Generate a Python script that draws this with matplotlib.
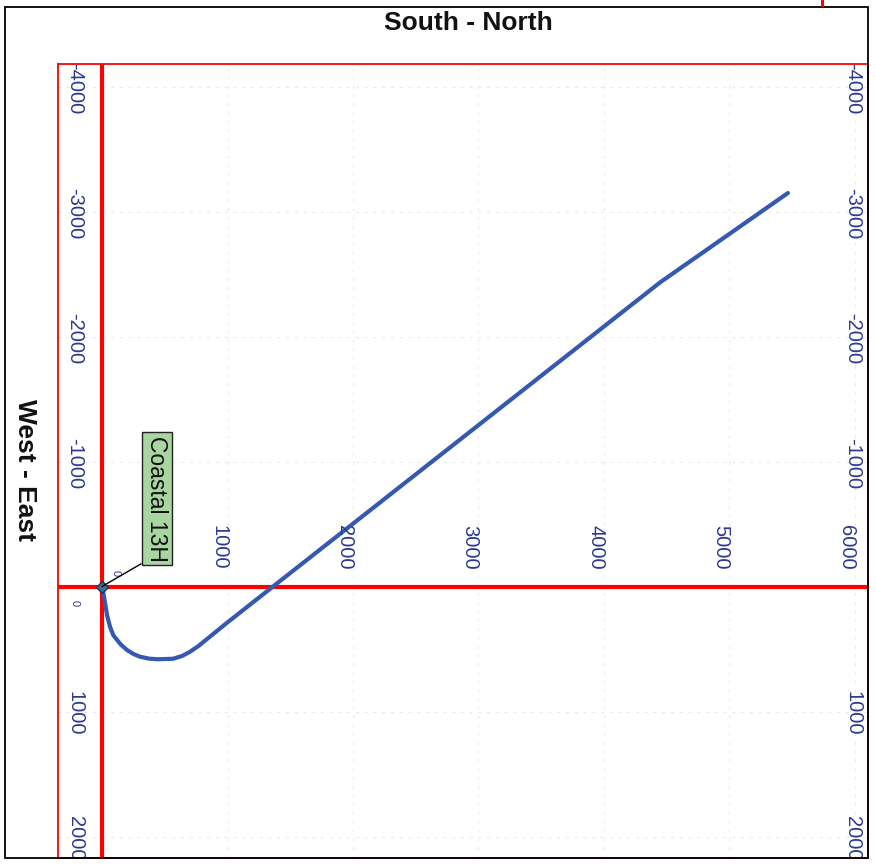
import matplotlib
matplotlib.use("Agg")
import matplotlib.pyplot as plt
from matplotlib.patches import Rectangle
from matplotlib.transforms import blended_transform_factory

plt.rcParams['font.family'] = ['Liberation Sans', 'DejaVu Sans']

# well path in plan view: south-north offset (ft) and west-east offset (ft)
sn = [0, 12, 24, 40, 64, 90, 120, 150, 199, 250, 303, 382, 450, 566, 640, 701,
      770, 837, 996, 1378, 1936, 4450, 5466]
we = [0, 60, 132, 230, 324, 390, 428, 465, 508, 540, 562, 578, 582, 578, 555, 522,
      475, 420, 290, -12, -452, -2435, -3148]

sn_ticks = [1000, 2000, 3000, 4000, 5000, 6000]
we_left = [-4000, -3000, -2000, -1000, 1000, 2000]
we_right = [-4000, -3000, -2000, -1000, 1000, 2000]
well_name = 'Coastal 13H'

tick_col = '#2b3990'
path_col = '#3558b0'

fig = plt.figure(figsize=(8.76, 8.66), dpi=100)
W, H = 876, 866
ax = fig.add_axes([58 / W, 1 - 858 / H, (868 - 58) / W, (858 - 64) / H])
ax.set_xlim(-351, 6104)
ax.set_ylim(2172, -4180)
ax.set_xticks([])
ax.set_yticks([])
for s in ax.spines.values():
    s.set_color('red')
    s.set_linewidth(1.3)

# faint grid
for v in sn_ticks:
    ax.axvline(v, color='#e8e8e8', lw=0.7, ls=(0, (3, 6)), zorder=0)
for v in we_left + [0]:
    ax.axhline(v, color='#e8e8e8', lw=0.7, ls=(0, (3, 6)), zorder=0)

ax.axhline(0, color='red', lw=3, zorder=1)
ax.axvline(0, color='red', lw=3, zorder=1)

ax.plot(sn, we, color=path_col, lw=3, solid_capstyle='round',
        solid_joinstyle='round', zorder=3)
ax.plot(sn[0], we[0], marker='D', ms=6, mfc='#3d6f94', mec='#1d3550', zorder=4)

# tick labels
for v in sn_ticks:
    ax.annotate(str(v), xy=(v, 0), xytext=(-6, 28), textcoords='offset points',
                rotation=270, ha='center', va='center', color=tick_col, fontsize=14.5)
ax.annotate('0', xy=(0, 0), xytext=(10, 10), textcoords='offset points',
            rotation=270, ha='center', va='center', color=tick_col, fontsize=8)

trans = blended_transform_factory(ax.transAxes, ax.transData)
for v in we_left:
    ax.text(0.021, v + 15, str(v), transform=trans, rotation=270, ha='center',
            va='center', color=tick_col, fontsize=14.5, clip_on=True)
ax.text(0.021, 130, '0', transform=trans, rotation=270, ha='center',
        va='center', color=tick_col, fontsize=8)
for v in we_right:
    ax.text(0.981, v + 15, str(v), transform=trans, rotation=270, ha='center',
            va='center', color=tick_col, fontsize=14.5, clip_on=True)

# well label
ax.annotate(well_name, xy=(sn[0], we[0]), xytext=(31, 18), textcoords='offset points',
            rotation=270, ha='left', va='bottom', fontsize=16.5, color='#111111',
            bbox=dict(boxstyle='square,pad=0.15', fc='#a8d5a0', ec='#222222', lw=1),
            arrowprops=dict(arrowstyle='-', color='black', lw=1, relpos=(0, 0),
                            shrinkA=0, shrinkB=0), zorder=5)

fig.text(468 / W, 1 - 23 / H, 'South - North', ha='center', va='center',
         fontsize=19, fontweight='bold', color='#111111')
fig.text(25 / W, 1 - 470 / H, 'West - East', ha='center', va='center',
         rotation=270, fontsize=19, fontweight='bold', color='#111111')

fig.add_artist(Rectangle((5 / W, 1 - 858 / H), (868 - 5) / W, (858 - 7) / H,
                         transform=fig.transFigure, fill=False, ec='black', lw=1.3))
fig.add_artist(Rectangle((821 / W, 1 - 7 / H), 3 / W, 7 / H,
                         transform=fig.transFigure, fc='red', ec='none'))

fig.savefig('out.png', dpi=100)
